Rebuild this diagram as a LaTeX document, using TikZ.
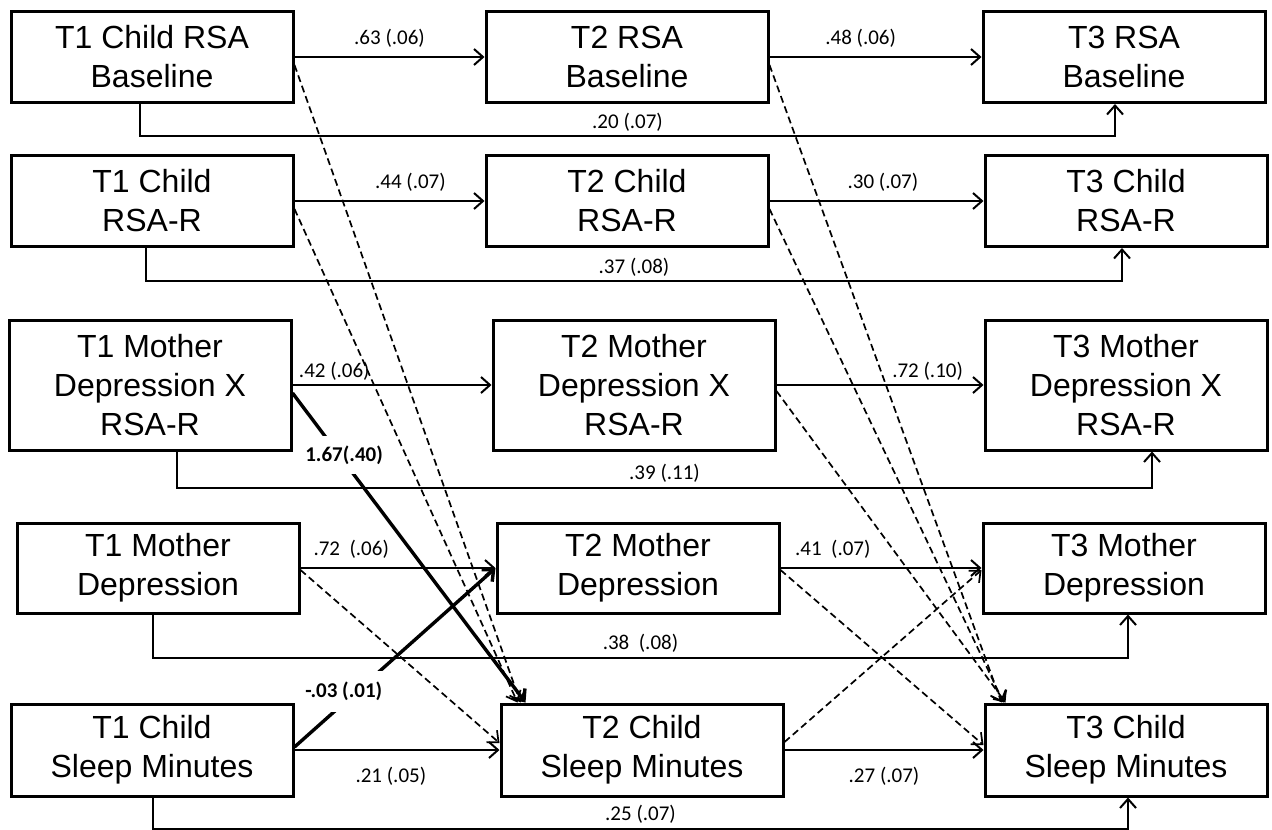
\documentclass[tikz,border=0pt]{standalone}
\usepackage{fontspec}
\setmainfont{Liberation Sans}
\newfontfamily\lblfont{Carlito}
\usetikzlibrary{arrows.meta}
\tikzset{
    every node/.style={font=\fontsize{16}{19.5}\selectfont},
}

\begin{document}
\begin{tikzpicture}[x=0.5pt, y=-0.5pt,
        box/.style={draw,line width=1.5pt,minimum width=141pt,minimum height=45.5pt,align=center,inner sep=0pt},
        tallbox/.style={box,minimum height=65pt},
        arr/.style={-{Straight Barb[length=4.5pt,width=8pt]},line width=1pt},
        dsh/.style={arr,line width=0.85pt,dash pattern=on 3.5pt off 2pt},
        thk/.style={arr,line width=1.7pt},
        lbl/.style={font=\lblfont\fontsize{10.5}{12}\selectfont,inner sep=2pt},
        blbl/.style={lbl,font=\lblfont\bfseries\fontsize{10.5}{12}\selectfont,fill=white,inner xsep=1pt}
    ]
    \useasboundingbox (0,0) rectangle (1272,829);

    % riga 1: RSA baseline
    \node[box] (a1) at (152,57) {T1 Child RSA\\Baseline};
    \node[box] (a2) at (627,57) {T2 RSA\\Baseline};
    \node[box] (a3) at (1124,57) {T3 RSA\\Baseline};

    % riga 2: RSA-R
    \node[box] (b1) at (152,201) {T1 Child\\RSA-R};
    \node[box] (b2) at (627,201) {T2 Child\\RSA-R};
    \node[box] (b3) at (1126,201) {T3 Child\\RSA-R};

    % riga 3: interazione
    \node[tallbox] (c1) at (150,385) {T1 Mother\\Depression X\\RSA-R};
    \node[tallbox] (c2) at (634,385) {T2 Mother\\Depression X\\RSA-R};
    \node[tallbox] (c3) at (1126,385) {T3 Mother\\Depression X\\RSA-R};

    % riga 4: depressione madre
    \node[box,minimum height=45pt] (d1) at (158,568) {T1 Mother\\Depression};
    \node[box,minimum height=45pt] (d2) at (638,568) {T2 Mother\\Depression};
    \node[box,minimum height=45pt] (d3) at (1124,568) {T3 Mother\\Depression};

    % riga 5: sonno
    \node[box,minimum height=46pt] (e1) at (152,750) {T1 Child\\Sleep Minutes};
    \node[box,minimum height=46pt] (e2) at (642,750) {T2 Child\\Sleep Minutes};
    \node[box,minimum height=46pt] (e3) at (1126,750) {T3 Child\\Sleep Minutes};

    % stabilita T1->T2->T3
    \draw[arr] (a1.east) -- node[lbl,above=2.5pt,pos=0.5]{.63 (.06)} (a2.west);
    \draw[arr] (a2.east) -- node[lbl,above=2.5pt,pos=0.43]{.48 (.06)} (a3.west);
    \draw[arr] (b1.east) -- node[lbl,above=2.5pt,pos=0.61]{.44 (.07)} (b2.west);
    \draw[arr] (b2.east) -- node[lbl,above=2.5pt,pos=0.53]{.30 (.07)} (b3.west);
    \draw[arr] (c1.east) -- node[lbl,above=0pt,pos=0.21]{.42 (.06)} (c2.west);
    \draw[arr] (c2.east) -- node[lbl,above=0pt,pos=0.73]{.72 (.10)} (c3.west);
    \draw[arr] (d1.east) -- node[lbl,above=2.5pt,pos=0.26]{.72\ \ (.06)} (d2.west);
    \draw[arr] (d2.east) -- node[lbl,above=2.5pt,pos=0.26]{.41\ \ (.07)} (d3.west);
    \draw[arr] (e1.east) -- node[lbl,below=6pt,pos=0.47]{.21 (.05)} (e2.west);
    \draw[arr] (e2.east) -- node[lbl,below=6pt,pos=0.5]{.27 (.07)} (e3.west);

    % percorsi T1->T3
    \draw[arr] ([xshift=-6pt]a1.south) -- ++(0,32) -| node[lbl,above=0pt,pos=0.25]{.20 (.07)} ([xshift=-4.5pt]a3.south);
    \draw[arr] ([xshift=-3pt]b1.south) -- ++(0,33) -| node[lbl,above=0pt,pos=0.25]{.37 (.08)} ([xshift=-2pt]b3.south);
    \draw[arr] ([xshift=13.5pt]c1.south) -- ++(0,36) -| node[lbl,above=0pt,pos=0.25]{.39 (.11)} ([xshift=13pt]c3.south);
    \draw[arr] ([xshift=-2.5pt]d1.south) -- ++(0,43) -| node[lbl,above=0pt,pos=0.25]{.38\ \ (.08)} ([xshift=2pt]d3.south);
    \draw[arr] ([xshift=0.5pt]e1.south) -- ++(0,31) -| node[lbl,above=0pt,pos=0.25]{.25 (.07)} ([xshift=1pt]e3.south);

    % percorsi incrociati non significativi
    \draw[dsh] ([yshift=-4pt]a1.east) -- ([xshift=10.5pt]e2.north west);
    \draw[dsh] ([yshift=-4pt]b1.east) -- ([xshift=9pt]e2.north west);
    \draw[dsh] ([yshift=-1pt]d1.east) -- ([yshift=3.5pt]e2.west);
    \draw[dsh] ([yshift=-4pt]a2.east) -- ([xshift=9pt]e3.north west);
    \draw[dsh] ([yshift=-4pt]b2.east) -- ([xshift=10pt]e3.north west);
    \draw[dsh] ([yshift=-3pt]c2.east) -- ([xshift=11pt]e3.north west);
    \draw[dsh] ([yshift=-1pt]d2.east) -- ([yshift=2.5pt]e3.west);
    \draw[dsh] ([yshift=4pt]e2.east) -- ([yshift=-1pt]d3.west);

    % percorsi incrociati significativi
    \draw[thk] ([yshift=-4pt]c1.east) -- node[blbl,pos=0.2,xshift=2.5pt,inner ysep=4.8pt]{1.67(.40)} ([xshift=13pt]e2.north west);
    \draw[thk] ([yshift=1.5pt]e1.east) -- node[blbl,pos=0.245,yshift=6pt,inner ysep=5.5pt]{-.03 (.01)} (d2.west);
\end{tikzpicture}
\end{document}
